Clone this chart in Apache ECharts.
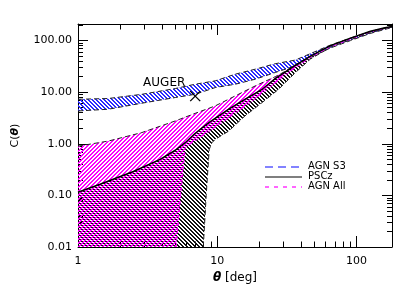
<!DOCTYPE html>
<html><head><meta charset="utf-8">
<script src="https://cdn.jsdelivr.net/npm/echarts@6/dist/echarts.min.js"></script>
<style>html,body{margin:0;padding:0;background:#fff}#c{width:415px;height:297px}</style>
</head><body><div id="c"></div>
<script>
// ---- data ----
const xTickLabels = [1, 10, 100];
const xTickText = ['1', '10', '100'];
const yTickLabels = [0.01, 0.1, 1, 10, 100];
const yTickText = ['0.01', '0.10', '1.00', '10.00', '100.00'];

// AGN S3 band
const s3X     = [1, 1.65, 2.87, 5.0, 6.95, 9.67, 13.5, 18.8, 26.1, 36.4, 46.7, 65, 90.5, 126, 160, 180];
const s3Upper = [7.3, 7.55, 9.1, 11.8, 14.3, 16.6, 22.4, 28.0, 35.7, 42, 56, 82, 112, 150, 175, 186];
const s3Lower = [4.33, 4.68, 6.12, 7.89, 9.1, 12.3, 14.3, 17.9, 24.1, 32.4, 47, 72, 100, 138, 165, 180];

// PSCz band (solid line is the upper edge)
const pscX     = [1, 1.44, 2.5, 3.89, 5.0, 5.89, 6.95, 8.76, 12.1, 16, 21.0, 26.1, 29.2, 36.4, 46.7, 65, 90.5, 126, 160, 180];
const pscLine  = [0.115, 0.165, 0.29, 0.5, 0.75, 1.05, 1.6, 2.6, 4.7, 7.4, 11.4, 18.3, 22.4, 33, 50, 80, 112, 152, 178, 188];
const pscLowX  = [1, 7.94, 8.33, 8.76, 9.16, 9.67, 12.1, 15.8, 21.0, 27.6, 36.4, 46.7, 65, 90.5, 126, 160, 180];
const pscLower = [0.01, 0.01, 0.1, 0.78, 1.05, 1.22, 1.77, 3.46, 6.3, 11.4, 24, 44, 74, 104, 142, 172, 184];

// AGN All band
const allX     = [1, 1.65, 2.87, 4.99, 6.95, 8.61, 9.67, 13.5, 18.8, 26.1, 29.2, 36.4, 46.7, 65, 90.5, 126, 160, 180];
const allUpper = [0.9, 1.13, 1.65, 2.77, 3.9, 4.82, 5.43, 8.5, 13.3, 20, 23.5, 34, 50, 79, 110, 150, 176, 187];
const allLowX  = [1, 5.07, 5.46, 5.89, 6.95, 8.61, 9.67, 12.1, 15.8, 21.0, 27.6, 36.4, 46.7, 65, 90.5, 126, 160, 180];
const allLower = [0.01, 0.01, 0.1, 0.85, 1.15, 1.7, 2.1, 3.2, 5.3, 9.5, 17, 30, 47, 76, 106, 146, 174, 185];

// AUGER point
const augerX = [6.95];
const augerY = [8.4];
const augerLabel = 'AUGER';

const legendNames = ['AGN S3', 'PSCz', 'AGN All'];
const xName = '{i|θ} [deg]';
const yName = 'C({i|θ})';

// ---- axes extents ----
const X_MIN = 1, X_MAX = 180, Y_MIN = 0.01, Y_MAX = 210;

function minorTicks(lo, hi) {
  const out = [];
  for (let e = Math.round(Math.log10(lo)); Math.pow(10, e) < hi; e++) {
    const d = Math.pow(10, e);
    for (let k = 2; k <= 9; k++) { const v = k * d; if (v > lo && v < hi) out.push(v); }
  }
  return out;
}
const xMinor = minorTicks(X_MIN, X_MAX);
const yMinor = minorTicks(Y_MIN, Y_MAX);

function hatch(color, dir) {
  const c = document.createElement('canvas'); c.width = 4; c.height = 4;
  const ctx = c.getContext('2d'); ctx.fillStyle = color;
  for (let y = 0; y < 4; y++) for (let x = 0; x < 4; x++) {
    const d = dir > 0 ? (x + y) % 4 : ((x - y) % 4 + 4) % 4;
    if (d === 0 || d === 1) ctx.fillRect(x, y, 1, 1);
  }
  return { image: c, repeat: 'repeat' };
}

function bandSeries(xs, up, lxs, low, fill, z) {
  return {
    type: 'custom', clip: true, z: z, silent: true, data: [[2, 1]],
    renderItem: function (params, api) {
      const pts = [];
      for (let i = 0; i < xs.length; i++) pts.push(api.coord([xs[i], up[i]]));
      for (let i = lxs.length - 1; i >= 0; i--) pts.push(api.coord([lxs[i], low[i]]));
      return { type: 'polygon', shape: { points: pts }, style: { fill: fill, stroke: null } };
    }
  };
}
function lineSeries(xs, ys, start, stroke, dash, width, z) {
  return {
    type: 'custom', clip: true, z: z, silent: true, data: [[2, 1]],
    renderItem: function (params, api) {
      const pts = [];
      for (let i = start; i < xs.length; i++) pts.push(api.coord([xs[i], ys[i]]));
      return { type: 'polyline', shape: { points: pts },
        style: { stroke: stroke, fill: null, lineWidth: width, lineDash: dash } };
    }
  };
}
function anchorSeries(i) {
  return { type: 'line', xAxisIndex: i, yAxisIndex: i, silent: true, showSymbol: false, symbol: 'none',
    lineStyle: { opacity: 0 }, data: [[2, 1], [3, 1]] };
}

const augerSeries = {
  type: 'custom', clip: false, z: 9, silent: true,
  data: augerX.map((x, i) => [x, augerY[i]]),
  renderItem: function (params, api) {
    const p = api.coord([api.value(0), api.value(1)]);
    const s = 5;
    return { type: 'group', children: [
      { type: 'line', shape: { x1: p[0] - s, y1: p[1] - s, x2: p[0] + s, y2: p[1] + s }, style: { stroke: '#000', lineWidth: 1.3 } },
      { type: 'line', shape: { x1: p[0] - s, y1: p[1] + s, x2: p[0] + s, y2: p[1] - s }, style: { stroke: '#000', lineWidth: 1.3 } },
      { type: 'text', x: p[0] - 31, y: p[1] - 13, style: { text: augerLabel, font: '12px "DejaVu Sans"', fill: '#000', align: 'center', verticalAlign: 'middle' } }
    ] };
  }
};

// tick labels drawn at positions given by the axes
const yLabelSeries = {
  type: 'custom', clip: false, z: 10, silent: true,
  data: yTickLabels.map(v => [X_MIN, v]),
  renderItem: function (params, api) {
    const p = api.coord([api.value(0), api.value(1)]);
    return { type: 'text', x: p[0] - 6, y: p[1],
      style: { text: yTickText[params.dataIndex], font: '11px "DejaVu Sans"', fill: '#000', align: 'right', verticalAlign: 'middle' } };
  }
};
const xLabelSeries = {
  type: 'custom', clip: false, z: 10, silent: true,
  data: xTickLabels.map(v => [v, Y_MIN]),
  renderItem: function (params, api) {
    const p = api.coord([api.value(0), api.value(1)]);
    return { type: 'text', x: p[0], y: p[1] + 9,
      style: { text: xTickText[params.dataIndex], font: '11px "DejaVu Sans"', fill: '#000', align: 'center', verticalAlign: 'top' } };
  }
};
const richI = { i: { fontFamily: 'DejaVu Sans', fontStyle: 'italic', fontWeight: 'bold', fill: '#000' } };
const namesAndLegend = {
  type: 'custom', clip: false, z: 10, silent: true, data: [[2, 1]],
  renderItem: function (params, api) {
    const lb = api.coord([X_MIN, Y_MIN]), rt = api.coord([X_MAX, Y_MAX]);
    const cx = (lb[0] + rt[0]) / 2, cy = (lb[1] + rt[1]) / 2;
    const ch = [
      { type: 'text', x: cx, y: lb[1] + 25, style: { text: xName, fontFamily: 'DejaVu Sans', fontSize: 12, fill: '#000', align: 'center', verticalAlign: 'top',
        rich: { i: Object.assign({ fontSize: 12 }, richI.i) } } },
      { type: 'text', x: lb[0] - 63, y: cy, rotation: Math.PI / 2, style: { text: yName, fontFamily: 'DejaVu Sans', fontSize: 11, fill: '#000', align: 'center', verticalAlign: 'middle',
        rich: { i: Object.assign({ fontSize: 11 }, richI.i) } } },
      { type: 'line', shape: { x1: 265, y1: 167, x2: 302, y2: 167 }, style: { stroke: '#5a5aff', lineWidth: 1.5, lineDash: [8, 5] } },
      { type: 'line', shape: { x1: 265, y1: 177, x2: 302, y2: 177 }, style: { stroke: '#000', lineWidth: 1.2 } },
      { type: 'line', shape: { x1: 265, y1: 187, x2: 302, y2: 187 }, style: { stroke: '#ff33ff', lineWidth: 1.5, lineDash: [4, 5] } },
      { type: 'text', x: 308, y: 166.5, style: { text: legendNames[0], font: '10px "DejaVu Sans"', fill: '#000', verticalAlign: 'middle' } },
      { type: 'text', x: 308, y: 176, style: { text: legendNames[1], font: '10px "DejaVu Sans"', fill: '#000', verticalAlign: 'middle' } },
      { type: 'text', x: 308, y: 186, style: { text: legendNames[2], font: '10px "DejaVu Sans"', fill: '#000', verticalAlign: 'middle' } }
    ];
    return { type: 'group', children: ch };
  }
};

function logAxis(extra, lineShow) {
  return Object.assign({ type: 'log', logBase: 10, splitLine: { show: false },
    axisLine: { show: lineShow, lineStyle: { color: '#000', width: 1 } },
    axisLabel: { show: false } }, extra);
}
function ticks(values, len) {
  return { inside: true, length: len, customValues: values };
}

const chart = echarts.init(document.getElementById('c'));
chart.setOption({
  animation: false,
  grid: { left: 78, right: 23, top: 24, bottom: 50 },
  xAxis: [
    logAxis({ min: X_MIN, max: X_MAX, position: 'bottom', axisTick: ticks(xTickLabels, 11) }, true),
    logAxis({ min: X_MIN, max: X_MAX, position: 'top', axisTick: ticks(xTickLabels, 11) }, true),
    logAxis({ min: X_MIN, max: X_MAX, position: 'bottom', axisTick: ticks(xMinor, 5.5) }, false),
    logAxis({ min: X_MIN, max: X_MAX, position: 'top', axisTick: ticks(xMinor, 5.5) }, false)
  ],
  yAxis: [
    logAxis({ min: Y_MIN, max: Y_MAX, position: 'left', axisTick: ticks(yTickLabels, 10) }, true),
    logAxis({ min: Y_MIN, max: Y_MAX, position: 'right', axisTick: ticks(yTickLabels, 10) }, true),
    logAxis({ min: Y_MIN, max: Y_MAX, position: 'left', axisTick: ticks(yMinor, 5) }, false),
    logAxis({ min: Y_MIN, max: Y_MAX, position: 'right', axisTick: ticks(yMinor, 5) }, false)
  ],
  series: [
    bandSeries(pscX, pscLine, pscLowX, pscLower, hatch('#111', -1), 2),
    bandSeries(allX, allUpper, allLowX, allLower, hatch('#ff00ff', 1), 3),
    bandSeries(s3X, s3Upper, s3X, s3Lower, hatch('#2b2bff', -1), 4),
    lineSeries(s3X, s3Upper, 0, '#222', [5, 3], 1, 5),
    lineSeries(s3X, s3Lower, 0, '#222', [5, 3], 1, 5),
    lineSeries(allX, allUpper, 0, '#222', [5, 3], 1, 5),
    lineSeries(allLowX, allLower, 1, '#ff00ff', [4, 3], 1, 5),
    lineSeries(pscLowX, pscLower, 1, '#222', [5, 3], 1, 5),
    { type: 'line', name: legendNames[1], xAxisIndex: 0, yAxisIndex: 0, silent: true, z: 6, clip: true,
      showSymbol: false, symbol: 'none', lineStyle: { color: '#000', width: 1.5 },
      data: pscX.map((x, i) => [x, pscLine[i]]) },
    anchorSeries(1), anchorSeries(2), anchorSeries(3),
    augerSeries, yLabelSeries, xLabelSeries, namesAndLegend
  ]
});
</script></body></html>
